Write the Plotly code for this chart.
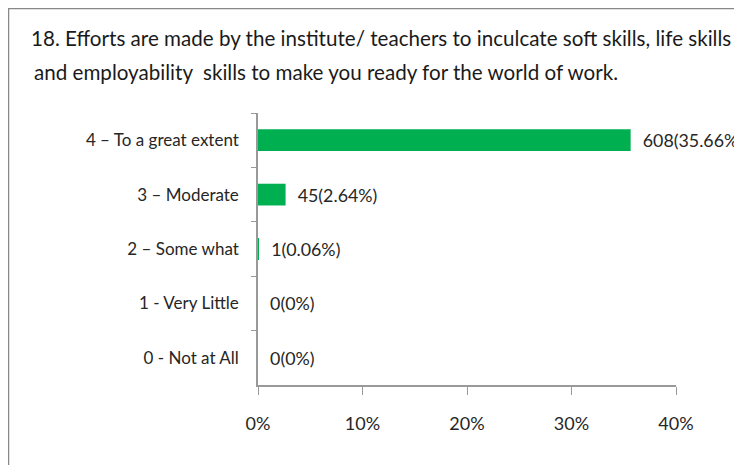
import plotly.graph_objects as go

categories = [
    "4 \u2013 To a great extent",
    "3 \u2013 Moderate",
    "2 \u2013 Some what",
    "1 - Very Little",
    "0 - Not at All",
]
counts = [608, 45, 1, 0, 0]
percents = [35.66, 2.64, 0.06, 0, 0]
x_ticks = [0, 10, 20, 30, 40]
title_lines = [
    "18. Efforts are made by the institute/ teachers to inculcate soft skills, life skills",
    "and employability  skills to make you ready for the world of work.",
]

labels = [f"  {c}({p:g}%)" for c, p in zip(counts, percents)]

FONT = "Lato, Carlito, Arial"
# page has an 8px body margin, so the figure is drawn 8px smaller and shifted
OFF = 8
W, H = 742 - OFF, 465 - OFF
L, T = 258 - OFF, 113 - OFF
pw, ph = 418, 272
R, B = W - L - pw, H - T - ph

fig = go.Figure(
    go.Bar(
        x=percents,
        y=categories,
        orientation="h",
        marker=dict(color="#00B050", line=dict(width=0)),
        text=labels,
        textposition="outside",
        cliponaxis=False,
        textfont=dict(size=18, color="#262626", family=FONT),
    )
)


def px(x):
    return (x - OFF - L) / pw


def py(y):
    return (T + ph - (y - OFF)) / ph


fig.add_shape(
    type="rect",
    xref="paper",
    yref="paper",
    x0=px(8.5),
    x1=px(760),
    y0=py(480),
    y1=py(8.5),
    line=dict(color="#888888", width=1.5),
    layer="below",
)

for line, x0, y0 in zip(title_lines, [29, 32], [38, 72]):
    fig.add_annotation(
        text=line,
        xref="paper",
        yref="paper",
        x=px(x0),
        y=py(y0),
        xanchor="left",
        yanchor="middle",
        showarrow=False,
        font=dict(size=20.6, family=FONT, color="#1a1a1a"),
    )

fig.update_layout(
    width=W,
    height=H,
    margin=dict(l=L, r=R, t=T, b=B, autoexpand=False),
    paper_bgcolor="white",
    plot_bgcolor="white",
    showlegend=False,
    bargap=0.6,
    font=dict(family=FONT, size=18, color="#262626"),
)

fig.update_xaxes(
    range=[0, 40],
    tickvals=x_ticks,
    ticktext=[f"{v}%" for v in x_ticks],
    showgrid=False,
    zeroline=False,
    showline=True,
    linecolor="#999999",
    linewidth=1.5,
    ticks="outside",
    ticklen=8,
    tickcolor="#999999",
    ticklabelstandoff=14,
    tickfont=dict(size=18, color="#262626"),
)

fig.update_yaxes(
    autorange="reversed",
    showgrid=False,
    zeroline=False,
    showline=True,
    linecolor="#999999",
    linewidth=1.5,
    ticks="outside",
    tickson="boundaries",
    ticklen=5,
    tickcolor="#999999",
    ticklabelstandoff=14,
    tickfont=dict(size=17, color="#262626"),
)

fig.write_html("out.html")
